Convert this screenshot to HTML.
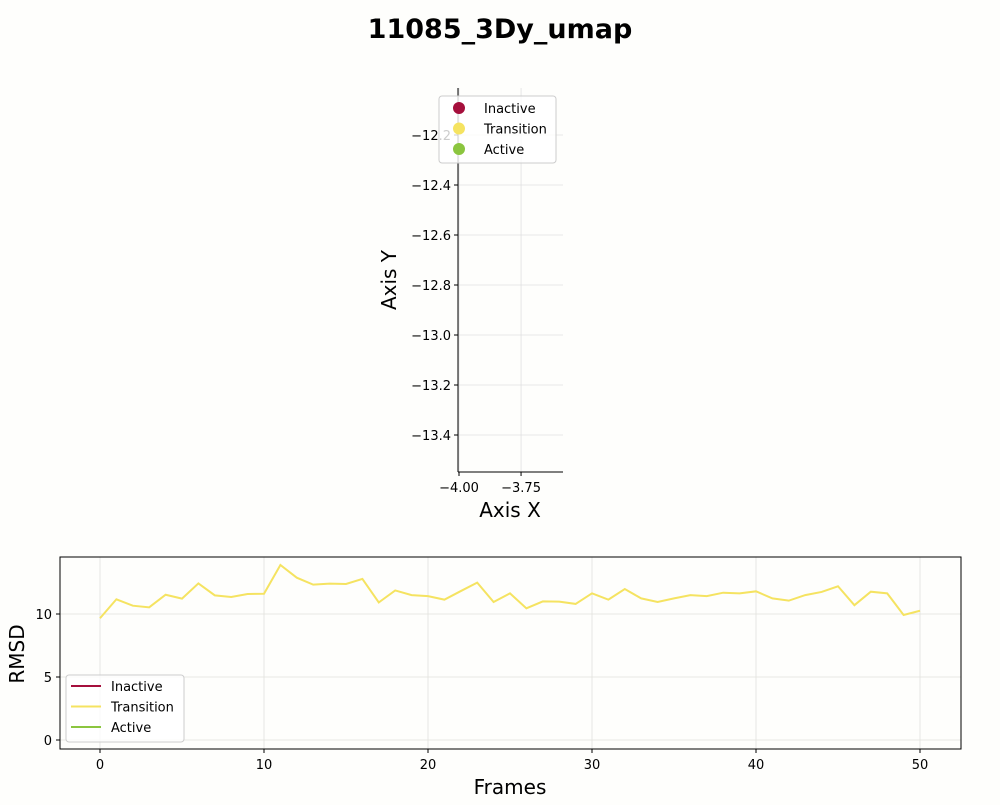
<!DOCTYPE html>
<html><head><meta charset="utf-8"><style>
body{margin:0;background:#fefefc;font-family:"Liberation Sans","DejaVu Sans",sans-serif}
svg text{font-family:"DejaVu Sans","Liberation Sans",sans-serif}
</style></head><body>
<svg id="c" width="1000" height="800" xmlns="http://www.w3.org/2000/svg">
<rect width="1000" height="800" fill="#fefefc"/>
<text x="500" y="38" text-anchor="middle" font-size="27" font-weight="bold">11085_3Dy_umap</text>
<g id="top"></g>
<g id="bot"></g>
</svg>
<script>
const frames = [];
for (let i = 0; i <= 50; i++) frames.push(i);
const rmsd = [9.66,11.17,10.66,10.53,11.53,11.22,12.43,11.48,11.35,11.59,11.61,13.89,12.88,12.33,12.41,12.38,12.78,10.92,11.87,11.5,11.42,11.14,11.82,12.49,10.95,11.64,10.45,11.0,10.98,10.8,11.64,11.14,11.98,11.24,10.95,11.24,11.5,11.42,11.69,11.64,11.8,11.24,11.06,11.5,11.75,12.2,10.7,11.77,11.64,9.92,10.26];
const botXTicks = [0,10,20,30,40,50];
const botYTicks = [0,5,10];
const topXTicks = [-4.00,-3.75];
const topYTicks = [-12.2,-12.4,-12.6,-12.8,-13.0,-13.2,-13.4];
const legendLabels = ["Inactive","Transition","Active"];
const legendColors = ["#a50f3c","#f5e361","#8bc53f"];

const NS="http://www.w3.org/2000/svg";
function mk(p,t,a,txt){const e=document.createElementNS(NS,t);for(const k in a)e.setAttribute(k,a[k]);if(txt!==undefined)e.textContent=txt;p.appendChild(e);return e;}

const T=document.getElementById('top');
const tL=458,tR=563,tT=88,tB=472;
const tx=v=>tL+(v-(-4.004))/(( -3.581)-(-4.004))*(tR-tL);
const ty=v=>tT+(-12.012-v)/(-12.012-(-13.548))*(tB-tT);
topXTicks.forEach(v=>{
  const g=mk(T,'line',{x1:tx(v),x2:tx(v),y1:tT,y2:tB,stroke:'#e0e0e0','stroke-width':0.8});
  
  const tk=mk(T,'line',{x1:tx(v),x2:tx(v),y1:tB,y2:tB+4,stroke:'#000'});
  
  const l=mk(T,'text',{x:tx(v),y:tB+20,'text-anchor':'middle','font-size':13},v.toFixed(2).replace('-','\u2212'));
  
});
topYTicks.forEach(v=>{
  const g=mk(T,'line',{x1:tL,x2:tR,y1:ty(v),y2:ty(v),stroke:'#e0e0e0','stroke-width':0.8});
  
  const tk=mk(T,'line',{x1:tL-4,x2:tL,y1:ty(v),y2:ty(v),stroke:'#000'});
  
  const l=mk(T,'text',{x:tL-7,y:ty(v)+5,'text-anchor':'end','font-size':13},v.toFixed(1).replace('-','\u2212'));
  
});
let s=mk(T,'line',{x1:tL,x2:tL,y1:tT,y2:tB,stroke:'#000'});
s=mk(T,'line',{x1:tL,x2:tR,y1:tB,y2:tB,stroke:'#000'});
s=mk(T,'text',{x:510,y:517,'text-anchor':'middle','font-size':20},'Axis X');
s=mk(T,'text',{x:396,y:280,'text-anchor':'middle','font-size':20,transform:'rotate(-90 396 280)'},'Axis Y');
s=mk(T,'rect',{x:439,y:96,width:117,height:67,rx:3,fill:'#fff','fill-opacity':0.8,stroke:'#ccc'});
legendLabels.forEach((n,i)=>{
  const y=108+i*20.5;
  const c=mk(T,'circle',{cx:459,cy:y,r:6,fill:legendColors[i]});
  const t=mk(T,'text',{x:484,y:y+5,'font-size':13},n);
});

const B=document.getElementById('bot');
const bL=60,bR=961,bT=557,bB=749;
const bx=v=>100+v*16.4;
const by=v=>740-v*12.6;
botXTicks.forEach(v=>{
  const g=mk(B,'line',{x1:bx(v),x2:bx(v),y1:bT,y2:bB,stroke:'#e0e0dc','stroke-width':0.8});
  
  const tk=mk(B,'line',{x1:bx(v),x2:bx(v),y1:bB,y2:bB+4,stroke:'#000'});
  
  const l=mk(B,'text',{x:bx(v),y:bB+20,'text-anchor':'middle','font-size':13},String(v));
  
});
botYTicks.forEach(v=>{
  const g=mk(B,'line',{x1:bL,x2:bR,y1:by(v),y2:by(v),stroke:'#e0e0dc','stroke-width':0.8});
  
  const tk=mk(B,'line',{x1:bL-4,x2:bL,y1:by(v),y2:by(v),stroke:'#000'});
  
  const l=mk(B,'text',{x:bL-8,y:by(v)+5,'text-anchor':'end','font-size':13},String(v));
  
});
const pts=frames.map((f,i)=>bx(f)+','+by(rmsd[i])).join(' ');
s=mk(B,'polyline',{points:pts,fill:'none',stroke:'#f5e361','stroke-width':2});
s=mk(B,'rect',{x:bL,y:bT,width:bR-bL,height:bB-bT,fill:'none',stroke:'#000'});
s=mk(B,'text',{x:510,y:794,'text-anchor':'middle','font-size':20},'Frames');
s=mk(B,'text',{x:24,y:654,'text-anchor':'middle','font-size':20,transform:'rotate(-90 24 654)'},'RMSD');
s=mk(B,'rect',{x:66,y:675,width:118,height:67,rx:3,fill:'#fff','fill-opacity':0.8,stroke:'#ccc'});
legendLabels.forEach((n,i)=>{
  const y=686+i*20.5;
  const l=mk(B,'line',{x1:71,x2:101,y1:y,y2:y,stroke:legendColors[i],'stroke-width':2});
  const t=mk(B,'text',{x:111,y:y+5,'font-size':13},n);
});
</script>
</body></html>
